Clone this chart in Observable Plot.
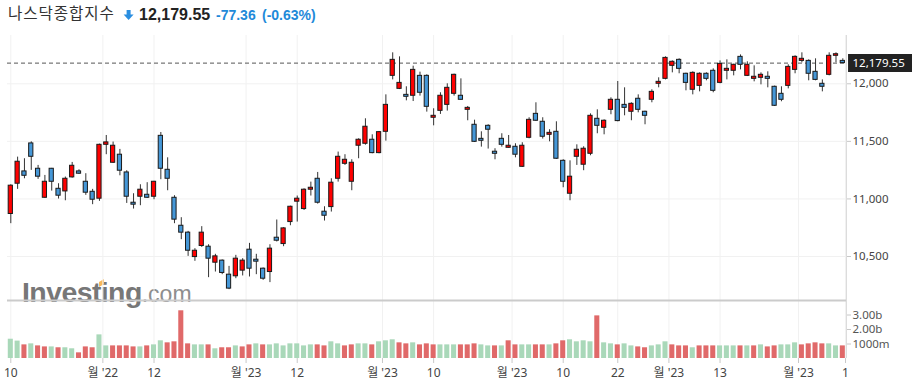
<!DOCTYPE html>
<html>
<head>
<meta charset="utf-8">
<script src="https://cdn.jsdelivr.net/npm/d3@7"></script>
<script src="https://cdn.jsdelivr.net/npm/@observablehq/plot@0.6"></script>
<style>
  html, body { margin: 0; padding: 0; background: #fff; }
  #wrap { position: relative; width: 912px; height: 388px; overflow: hidden; background: #fff; }
  #wrap > * { position: absolute; left: 0; }
</style>
</head>
<body>
<div id="wrap"></div>
<script>
// ---- header ----
const indexName = "나스닥종합지수";
const lastPriceText = "12,179.55";
const changeText = "-77.36";
const changePctText = "(-0.63%)";

// ---- daily candles (Nov 10 '22 .. May 9 '23) ----
const opens = [10869,11132,11239,11482,11262,11010,11262,11088,11065,11187,11239,11149,11062,11002,11470,11314,11384,11230,10967,11019,11036,11019,11548,11253,11010,10767,10707,10495,10591,10585,10446,10464,10342,10328,10377,10559,10472,10394,10365,10663,10608,10799,10976,10912,11080,11175,10889,10929,11175,11305,11149,11462,11479,11514,11398,11583,12069,11956,11904,11896,12069,12069,11705,11765,11817,11913,11896,11774,11644,11522,11635,11410,11522,11444,11453,11279,11531,11739,11670,11557,11583,11331,11045,11366,11297,11392,11696,11618,11774,11861,11817,11757,11870,11757,11861,12000,12043,12156,12208,12087,11948,11982,12087,12113,12008,12113,12113,12234,12069,12043,12052,12061,11974,11913,11982,12121,12199,12199,12104,12000,12078,12243,12199];
const highs = [11123,11363,11349,11496,11291,11204,11265,11132,11190,11317,11253,11219,11083,11476,11551,11494,11430,11245,11045,11123,11141,11153,11577,11357,11028,10837,10718,10568,10759,10602,10519,10470,10414,10510,10481,10614,10519,10400,10602,10817,10750,10937,11025,11088,11146,11230,10932,11175,11407,11384,11340,11522,11696,11557,11586,11904,12269,12234,11974,12153,12101,12078,11783,11922,12000,12084,12043,11803,11684,11583,11644,11436,11566,11551,11479,11488,11705,11835,11705,11601,11670,11340,11331,11470,11453,11739,11774,11687,11878,12020,11965,11835,11904,11762,11948,12052,12234,12199,12217,12092,12104,12095,12095,12130,12199,12208,12170,12251,12191,12156,12095,12104,11980,11974,12165,12243,12269,12208,12217,12034,12269,12269,12217];
const lows = [10785,11083,11175,11248,11170,11005,11068,10999,10984,11180,11213,11031,10950,10979,11384,11308,11201,10961,10912,10941,11005,10993,11167,11071,10785,10646,10501,10458,10579,10316,10365,10342,10212,10307,10331,10322,10342,10293,10273,10626,10585,10767,10799,10900,11025,10955,10808,10886,11146,11291,11071,11349,11467,11392,11392,11502,12034,11950,11852,11846,11893,11754,11635,11734,11763,11893,11856,11679,11490,11450,11433,11340,11450,11440,11357,11273,11522,11673,11520,11496,11343,11097,10984,11291,11245,11375,11566,11557,11731,11670,11722,11679,11748,11644,11835,11965,12034,12095,12087,11939,11904,11930,12026,11922,12000,12034,12069,12121,12063,12017,11991,11965,11803,11844,11956,12087,12182,12026,12026,11930,12069,12182,12175];
const closes = [11115,11323,11201,11366,11193,11149,11149,11028,11175,11288,11219,11054,10993,11470,11491,11462,11245,11019,10950,11080,11010,11149,11262,11175,10820,10707,10550,10550,10707,10481,10501,10357,10221,10481,10464,10394,10455,10307,10568,10637,10744,10932,11002,11080,11097,10967,10854,11141,11366,11340,11314,11514,11627,11398,11580,11817,12208,12008,11887,12121,11922,11800,11722,11896,11965,12078,11861,11791,11496,11505,11601,11392,11470,11462,11384,11462,11687,11679,11540,11574,11349,11149,11193,11427,11436,11722,11635,11679,11861,11676,11791,11826,11774,11722,11930,12017,12225,12191,12130,12008,12095,12087,12043,11939,12173,12130,12165,12165,12165,12061,12078,12043,11809,11861,12147,12234,12217,12087,12034,11974,12243,12257,12179.55];
// volume in billions, and its bar colour flag (1 = green, 0 = red)
const volumes = [1.33,1.20,0.94,1.01,0.87,0.80,0.80,0.74,0.74,0.67,0.39,0.80,0.74,1.63,0.87,0.87,0.87,0.87,0.80,0.80,0.87,0.94,1.22,1.08,1.15,3.29,1.01,0.94,0.94,0.94,0.67,0.74,0.74,0.87,0.80,0.94,1.01,0.94,0.94,1.01,0.87,1.01,1.01,0.87,0.94,0.94,0.87,1.15,1.01,0.87,0.94,1.01,1.01,0.94,1.15,1.22,1.29,1.08,1.01,1.08,0.94,1.01,0.94,0.94,0.94,0.94,0.94,0.94,1.01,0.94,0.87,0.87,0.87,1.22,0.94,0.94,0.94,0.94,0.94,0.94,1.01,1.22,1.29,1.15,1.22,1.15,2.94,1.08,1.01,0.94,1.01,0.87,0.80,0.74,0.87,0.94,1.15,0.94,0.87,0.87,0.74,0.87,0.87,0.87,0.87,0.87,0.87,0.87,0.87,0.87,0.94,0.80,0.87,0.94,0.94,1.08,0.94,1.01,1.08,1.01,1.01,0.87,0.87];
const volumeUp = [1,1,0,1,0,0,1,0,1,1,0,0,0,1,1,0,0,0,0,1,0,1,1,0,0,0,0,1,1,0,1,0,0,1,0,0,1,0,1,1,1,1,1,1,1,0,0,1,1,0,0,1,1,0,1,1,1,0,0,1,0,0,0,1,1,1,0,0,0,1,1,0,1,0,0,1,1,0,0,1,0,0,1,1,1,1,0,1,1,0,1,1,0,0,1,1,1,0,0,0,1,0,0,0,1,1,1,0,1,0,1,0,0,1,1,1,0,0,0,0,1,1,0];

// ---- axes ----
const xTickPos = [0, 13.5, 21, 34.5, 42, 54.5, 62, 73.5, 81, 89, 96.5, 104, 115.5, 122.4];
const xTickLabels = ["10", "월 '22", "12", "월 '23", "12", "월 '23", "10", "월 '23", "10", "22", "월 '23", "13", "월 '23", "1"];
const priceTicks = [10500, 11000, 11500, 12000];
const volTicks = [1, 2, 3];
const volTickLabels = ["1000m", "2.00b", "3.00b"];

const data = closes.map((c, i) => ({
  i, open: opens[i], high: highs[i], low: lows[i], close: c,
  vol: volumes[i], volUp: volumeUp[i]
}));
const lastClose = closes[closes.length - 1];
const xLabel = new Map(xTickPos.map((p, k) => [p, xTickLabels[k]]));
const vLabel = new Map(volTicks.map((p, k) => [p, volTickLabels[k]]));

const xDomain = [-0.484, 122.54];
const axisFont = "'Noto Sans', 'Noto Sans CJK KR', Roboto, sans-serif";
const wrap = document.getElementById("wrap");

// header
const ns = "http://www.w3.org/2000/svg";
const hdr = document.createElementNS(ns, "svg");
hdr.setAttribute("width", 912); hdr.setAttribute("height", 32);
hdr.style.top = "0px";
hdr.innerHTML = `
  <text x="8" y="18.5" font-family="'Noto Sans CJK KR', sans-serif" font-size="15.6" letter-spacing="0.9" fill="#333">${indexName}</text>
  <g fill="#2a8ee0"><rect x="126.6" y="10" width="4" height="5"/><polygon points="123.6,14.5 133.6,14.5 128.6,20"/></g>
  <text x="139" y="20" font-family="'Liberation Sans', Arial, sans-serif" font-weight="bold" font-size="16" fill="#222">${lastPriceText}</text>
  <text x="216" y="20" font-family="'Liberation Sans', Arial, sans-serif" font-weight="bold" font-size="14" fill="#1f8ad9">${changeText}</text>
  <text x="262" y="20" font-family="'Liberation Sans', Arial, sans-serif" font-weight="bold" font-size="14" fill="#1f8ad9">${changePctText}</text>`;
wrap.appendChild(hdr);

// watermark
const wm = document.createElementNS(ns, "svg");
wm.setAttribute("width", 912); wm.setAttribute("height", 60);
wm.style.top = "260px";
wm.innerHTML = `<text x="22" y="42" font-family="'Liberation Sans', Arial, sans-serif" font-size="28.5" font-weight="bold" fill="#777" letter-spacing="-0.6">Investing<tspan font-weight="normal" font-size="23" fill="#8e8e8e" letter-spacing="0">.com</tspan></text>
<polygon points="99,22 104,19 104,24 99,27" fill="#f7b85a"/>`;
wrap.appendChild(wm);

// price panel
const price = Plot.plot({
  width: 912, height: 265,
  marginLeft: 7, marginRight: 66, marginTop: 0, marginBottom: 0,
  x: { domain: xDomain, axis: null },
  y: { domain: [10117.7, 12419.5], axis: null },
  style: { fontFamily: axisFont, fontSize: "12px", background: "transparent", overflow: "visible" },
  marks: [
    Plot.gridX({ ticks: xTickPos, stroke: "#f1f1f1", strokeOpacity: 1 }),
    Plot.gridY({ ticks: priceTicks, stroke: "#f1f1f1", strokeOpacity: 1 }),
    Plot.ruleX([xDomain[1]], { stroke: "#dcdcdc" }),
    Plot.ruleY([lastClose], { stroke: "#555", strokeDasharray: "4,3" }),
    Plot.ruleX(data, { x: "i", y1: "low", y2: "high", stroke: "#333", strokeWidth: 1 }),
    Plot.rect(data, {
      x1: d => d.i - 0.31, x2: d => d.i + 0.31, y1: "open", y2: "close",
      fill: d => d.close >= d.open ? "#ff0000" : "#4597d7",
      stroke: "#1a1a1a", strokeWidth: 1
    }),
    Plot.axisY({ anchor: "right", label: null, ticks: priceTicks, tickFormat: () => "", tickSize: 4, color: "#c8c8c8" }),
    Plot.axisY({ anchor: "right", label: null, ticks: priceTicks, tickFormat: d3.format(","), tickSize: 0, tickPadding: 6, color: "#444", fontSize: 11.5 }),
    Plot.ruleY([lastClose], { x1: xDomain[1] + 0.3, x2: xDomain[1] + 12, stroke: "#222", strokeWidth: 18 }),
    Plot.text([lastClose], { x: xDomain[1], y: d => d, text: d => d3.format(",.2f")(d), dx: 6, textAnchor: "start", fill: "#fff", fontSize: 11.5 })
  ]
});
price.style.top = "35px";
wrap.appendChild(price);

// volume panel + x axis
const vol = Plot.plot({
  width: 912, height: 90,
  marginLeft: 7, marginRight: 66, marginTop: 2, marginBottom: 30,
  x: { domain: xDomain, axis: null },
  y: { domain: [0, 4.0], axis: null },
  style: { fontFamily: axisFont, fontSize: "12px", background: "transparent", overflow: "visible" },
  marks: [
    Plot.gridX({ ticks: xTickPos, stroke: "#f1f1f1", strokeOpacity: 1 }),
    Plot.ruleX([xDomain[1]], { stroke: "#dcdcdc" }),
    Plot.rect(data, {
      x1: d => d.i - 0.37, x2: d => d.i + 0.37, y1: 0, y2: "vol",
      fill: d => d.volUp ? "#a9d8b9" : "#e06969"
    }),
    Plot.ruleY([4.0], { stroke: "#cbcbcb", strokeWidth: 2 }),
    Plot.axisY({ anchor: "right", label: null, ticks: volTicks, tickFormat: () => "", tickSize: 4, color: "#c8c8c8" }),
    Plot.axisY({ anchor: "right", label: null, ticks: volTicks, tickFormat: d => vLabel.get(d), tickSize: 0, tickPadding: 6, color: "#555", fontSize: 11.5 }),
    Plot.axisX({ anchor: "bottom", label: null, ticks: xTickPos, tickFormat: () => "", tickSize: 5, color: "#c8c8c8" }),
    Plot.axisX({ anchor: "bottom", label: null, ticks: xTickPos, tickFormat: d => xLabel.get(d), tickSize: 0, tickPadding: 10, color: "#444", fontSize: 12 })
  ]
});
vol.style.top = "298px";
wrap.appendChild(vol);
</script>
</body>
</html>
